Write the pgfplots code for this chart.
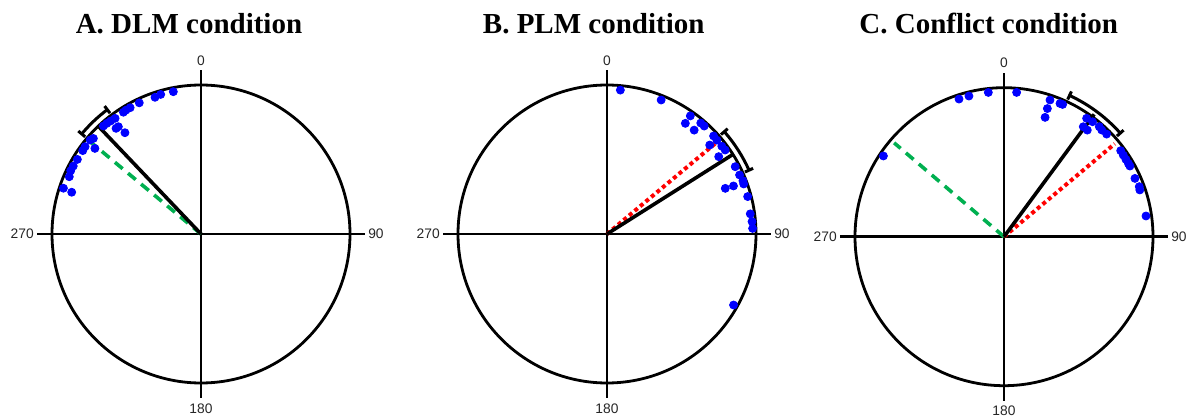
\documentclass[border=0pt]{standalone}
\usepackage{fontspec}
\setmainfont{Liberation Serif}
\newfontfamily\tickfont{Liberation Sans}
\usepackage{pgfplots}
\usepackage{pgfplotstable}
\pgfplotsset{compat=1.18}

\definecolor{dotblue}{RGB}{0,0,255}
\definecolor{hypgreen}{RGB}{0,176,80}
\definecolor{hypred}{RGB}{255,0,0}

% individual directions (compass degrees, clockwise from 0 at top) and plotted radius
\pgfplotstableread{
ang r
349.0 0.973
343.9 0.975
341.4 0.968
334.8 0.973
330.7 0.972
328.8 0.972
327.5 0.969
323.4 0.967
321.4 0.971
319.6 0.975
317.9 0.977
322.4 0.909
321.2 0.910
323.1 0.850
311.6 0.966
310.3 0.975
308.9 0.915
307.0 0.974
305.2 0.971
301.1 0.969
298.0 0.971
295.9 0.972
293.5 0.964
288.4 0.973
287.9 0.912
}\dotsA

\pgfplotstableread{
ang r
5.3 0.970
22.0 0.970
35.2 0.970
35.3 0.910
40.2 0.975
42.0 0.975
40.0 0.910
47.4 0.972
49.5 0.970
49.1 0.912
52.6 0.970
54.6 0.973
55.3 0.912
62.3 0.972
66.0 0.974
68.6 0.980
69.9 0.977
68.9 0.851
69.2 0.908
75.1 0.977
82.0 0.971
85.1 0.977
87.8 0.978
119.3 0.974
}\dotsB

\pgfplotstableread{
ang r
341.9 0.972
346.0 0.973
353.8 0.974
5.0 0.972
18.6 0.968
18.7 0.908
19.0 0.847
22.8 0.970
23.9 0.971
34.9 0.969
37.6 0.974
35.8 0.910
38.0 0.908
40.9 0.977
42.5 0.971
45.0 0.974
53.6 0.973
55.6 0.970
57.6 0.969
59.5 0.969
60.7 0.969
66.0 0.962
69.7 0.968
71.0 0.964
81.7 0.963
303.8 0.974
}\dotsC

% mean directions (from the centre out)
\pgfplotstableread{
ang r
316.4 0
316.4 1.00
}\meanA
\pgfplotstableread{
ang r
57.7 0
57.7 1.00
}\meanB
\pgfplotstableread{
ang r
36.4 0
36.4 1.02
}\meanC

% predicted directions
\pgfplotstableread{
ang r
309.8 0
309.8 0.97
}\dlmA
\pgfplotstableread{
ang r
50.1 0
50.1 0.95
}\plmB
\pgfplotstableread{
ang r
50.0 0
50.0 0.97
}\plmC
\pgfplotstableread{
ang r
310.5 0
310.5 0.97
}\dlmC

\pgfplotsset{
  panel/.style={
    scale only axis, width=178.8pt, height=178.8pt,
    xmin=-1.2, xmax=1.2, ymin=-1.2, ymax=1.2,
    hide axis, clip=false, anchor=origin,
  },
  obs/.style={only marks, mark=*, mark size=2pt, color=dotblue},
  meanvec/.style={black, line width=1.8pt},
  dlmline/.style={hypgreen, line width=1.8pt, dash pattern=on 5pt off 3.5pt},
  plmline/.style={hypred, line width=2pt, dash pattern=on 2pt off 1.6pt},
}

% compass angle -> cartesian
\newcommand{\PX}{\thisrow{r}*sin(\thisrow{ang})}
\newcommand{\PY}{\thisrow{r}*cos(\thisrow{ang})}

% circular frame with the four direction labels
\newcommand{\compassframe}{%
  \draw[line width=1.4pt] (axis cs:-1.1,0) -- (axis cs:1.1,0);
  \draw[line width=1.4pt] (axis cs:0,-1.1) -- (axis cs:0,1.1);
  \draw[line width=1.4pt] (axis cs:0,0) circle[radius=1];
  \node[anchor=east, inner sep=0pt, font=\tickfont\fontsize{6.9}{7}\selectfont, text=black!85] at (axis cs:-1.12,0) {270};
  \node[anchor=west, inner sep=0pt, font=\tickfont\fontsize{6.9}{7}\selectfont, text=black!85] at (axis cs:1.12,0) {90};
  \node[anchor=north, inner sep=0pt, font=\tickfont\fontsize{6.9}{7}\selectfont, text=black!85] at (axis cs:0,-1.135) {180};
  \node[anchor=south, inner sep=0pt, font=\tickfont\fontsize{6.9}{7}\selectfont, text=black!85] at (axis cs:0,1.13) {0};
}

% confidence interval arc between two compass angles, with end caps
\newcommand{\ciarc}[2]{%
  \draw[line width=1.5pt] (axis cs:{1.045*sin(#1)},{1.045*cos(#1)})
     arc[start angle={90-#1}, end angle={90-#2}, radius=1.045];
  \draw[line width=1.5pt] (axis cs:{1.015*sin(#1)},{1.015*cos(#1)}) -- (axis cs:{1.075*sin(#1)},{1.075*cos(#1)});
  \draw[line width=1.5pt] (axis cs:{1.015*sin(#2)},{1.015*cos(#2)}) -- (axis cs:{1.075*sin(#2)},{1.075*cos(#2)});
}

\begin{document}
\begin{tikzpicture}
\useasboundingbox (0,0) rectangle (594.5pt,209pt);

\node[anchor=base, font=\bfseries\fontsize{14.5}{16}\selectfont] at (94.5pt,192.35pt) {A. DLM condition};
\node[anchor=base, font=\bfseries\fontsize{14.5}{16}\selectfont] at (296.85pt,192.35pt) {B. PLM condition};
\node[anchor=base, font=\bfseries\fontsize{14.5}{16}\selectfont] at (494.35pt,192.35pt) {C. Conflict condition};

% A
\begin{axis}[panel, at={(100.5pt,92pt)}]
\compassframe
\addplot[obs] table[x expr=\PX, y expr=\PY] {\dotsA};
\addplot[dlmline] table[x expr=\PX, y expr=\PY] {\dlmA};
\addplot[meanvec] table[x expr=\PX, y expr=\PY] {\meanA};
\ciarc{310}{323}
\end{axis}

% B
\begin{axis}[panel, at={(303.5pt,92pt)}]
\compassframe
\addplot[obs] table[x expr=\PX, y expr=\PY] {\dotsB};
\addplot[plmline] table[x expr=\PX, y expr=\PY] {\plmB};
\addplot[meanvec] table[x expr=\PX, y expr=\PY] {\meanB};
\ciarc{48.9}{65.8}
\end{axis}

% C
\begin{axis}[panel, at={(502pt,90.65pt)}]
\compassframe
\addplot[obs] table[x expr=\PX, y expr=\PY] {\dotsC};
\addplot[dlmline] table[x expr=\PX, y expr=\PY] {\dlmC};
\addplot[plmline] table[x expr=\PX, y expr=\PY] {\plmC};
\addplot[meanvec] table[x expr=\PX, y expr=\PY] {\meanC};
\ciarc{24.9}{48.3}
\end{axis}
\end{tikzpicture}
\end{document}
